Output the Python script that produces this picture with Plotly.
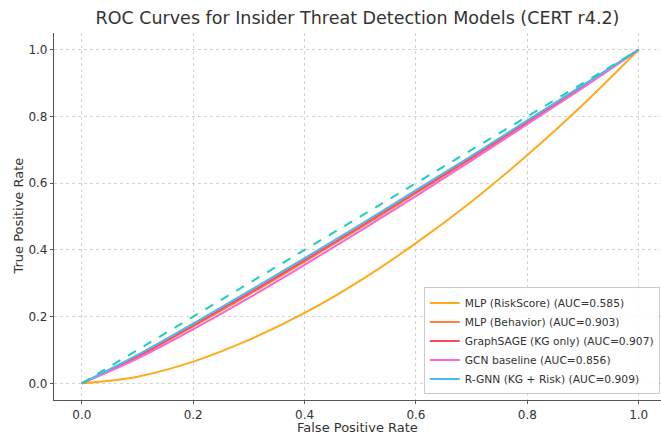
import plotly.graph_objects as go

fpr = [0.0, 0.1, 0.2, 0.3, 0.4, 0.5, 0.6, 0.7, 0.8, 0.9, 1.0]

tpr_mlp_risk = [0.0, 0.02, 0.065, 0.13, 0.211, 0.308, 0.42, 0.545, 0.684, 0.836, 1.0]
tpr_mlp_behavior = [0.0, 0.079, 0.171, 0.266, 0.365, 0.466, 0.570, 0.674, 0.781, 0.890, 1.0]
tpr_graphsage = [0.0, 0.081, 0.174, 0.270, 0.369, 0.470, 0.573, 0.677, 0.783, 0.891, 1.0]
tpr_gcn = [0.0, 0.074, 0.162, 0.256, 0.355, 0.457, 0.561, 0.668, 0.777, 0.886, 1.0]
tpr_rgnn = [0.0, 0.085, 0.179, 0.276, 0.375, 0.476, 0.579, 0.682, 0.788, 0.894, 1.0]
chance = [0.0, 1.0]

names = [
    "MLP (RiskScore) (AUC=0.585)",
    "MLP (Behavior) (AUC=0.903)",
    "GraphSAGE (KG only) (AUC=0.907)",
    "GCN baseline (AUC=0.856)",
    "R-GNN (KG + Risk) (AUC=0.909)",
]
series = [tpr_mlp_risk, tpr_mlp_behavior, tpr_graphsage, tpr_gcn, tpr_rgnn]
colors = ["#FFAA1C", "#FF7F3F", "#FF4A5E", "#FF66CC", "#4CB8EE"]

fig = go.Figure()
for name, ys, c in zip(names, series, colors):
    fig.add_trace(go.Scatter(x=fpr, y=ys, mode="lines", name=name,
                             line=dict(color=c, width=2, shape="spline")))
fig.add_trace(go.Scatter(x=chance, y=chance, mode="lines", showlegend=False,
                         line=dict(color="#22CCBB", width=2, dash="dash")))

axis_common = dict(
    showgrid=True, gridcolor="#d4d4d4", gridwidth=1, griddash="dot",
    zeroline=False, showline=True, linecolor="#555555", linewidth=1.2,
    ticks="outside", ticklen=3, tickcolor="#555555",
    tickfont=dict(size=12, color="#333333", family="DejaVu Sans"),
    tickvals=[0, 0.2, 0.4, 0.6, 0.8, 1.0],
    ticktext=["0.0", "0.2", "0.4", "0.6", "0.8", "1.0"],
    automargin=False,
)

fig.update_layout(
    width=661, height=434,
    margin=dict(l=54, r=0, t=33, b=34),
    paper_bgcolor="white", plot_bgcolor="white",
    font=dict(family="DejaVu Sans", color="#333333"),
    title=dict(text="ROC Curves for Insider Threat Detection Models (CERT r4.2)",
               xref="paper", x=0.5, xanchor="center",
               yref="container", y=1 - 18 / 434, yanchor="middle",
               font=dict(size=17.5, color="#333333", family="DejaVu Sans")),
    xaxis=dict(axis_common, range=[-0.05, 1.04]),
    yaxis=dict(axis_common, range=[-0.05, 1.05]),
    legend=dict(x=0.998, y=0.015, xanchor="right", yanchor="bottom",
                bgcolor="rgba(255,255,255,0.85)", bordercolor="#cccccc", borderwidth=1,
                font=dict(size=10.7, color="#333333", family="DejaVu Sans"),
                itemwidth=30, tracegroupgap=0),
    showlegend=True,
    annotations=[
        dict(text="False Positive Rate", xref="paper", x=0.5, xanchor="center",
             yref="paper", y=-(427.5 - 400) / 366.6, yanchor="middle", showarrow=False,
             font=dict(size=13, color="#333333", family="DejaVu Sans")),
        dict(text="True Positive Rate", xref="paper", x=-(54 - 18) / 607, xanchor="center",
             yref="paper", y=0.5, yanchor="middle", showarrow=False, textangle=-90,
             font=dict(size=13, color="#333333", family="DejaVu Sans")),
    ],
)

fig.write_html("out.html", config={"displayModeBar": False},
               post_script="document.body.style.margin='0';document.body.style.overflow='hidden';")
